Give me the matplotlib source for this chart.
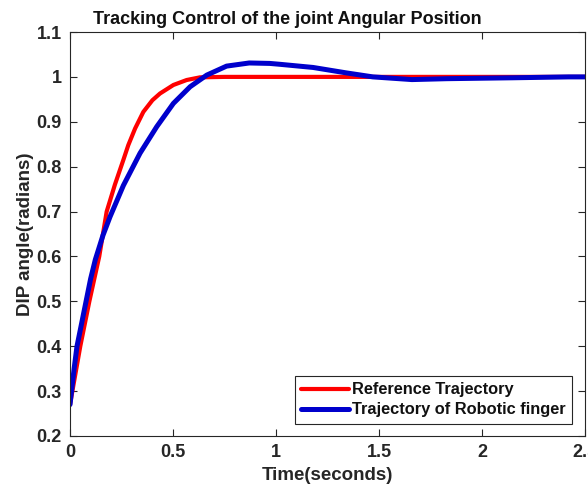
import matplotlib
matplotlib.use("Agg")
import matplotlib.pyplot as plt
from matplotlib.ticker import FixedLocator, FixedFormatter

plt.rcParams['font.family'] = ['Liberation Sans', 'DejaVu Sans']
plt.rcParams['font.weight'] = 'bold'

# Reference trajectory
t_ref = [0, 0.05, 0.094, 0.142, 0.178, 0.218, 0.259, 0.283, 0.316, 0.356, 0.40, 0.437, 0.502,
         0.566, 0.631, 0.75, 1.0, 1.5, 2.0, 2.5]
y_ref = [0.27, 0.40, 0.50, 0.60, 0.70, 0.76, 0.815, 0.848, 0.885, 0.922, 0.948, 0.963, 0.982,
         0.993, 0.999, 1.0, 1.0, 1.0, 1.0, 1.0]

# Trajectory of robotic finger
t_rob = [0, 0.02, 0.034, 0.078, 0.10, 0.123, 0.16, 0.194, 0.259, 0.34, 0.421, 0.502, 0.583, 0.664,
         0.76, 0.87, 0.97, 1.02, 1.18, 1.34, 1.47, 1.66, 1.83, 2.15, 2.42, 2.5]
y_rob = [0.27, 0.35, 0.40, 0.50, 0.55, 0.593, 0.647, 0.688, 0.758, 0.83, 0.889, 0.941, 0.978, 1.004,
         1.024, 1.031, 1.030, 1.028, 1.021, 1.009, 1.000, 0.994, 0.996, 0.998, 1.0, 1.0]

xticks = [0, 0.5, 1, 1.5, 2, 2.5]
xtick_labels = ['0', '0.5', '1', '1.5', '2', '2.5']
yticks = [0.2, 0.3, 0.4, 0.5, 0.6, 0.7, 0.8, 0.9, 1.0, 1.1]
ytick_labels = ['0.2', '0.3', '0.4', '0.5', '0.6', '0.7', '0.8', '0.9', '1', '1.1']

fig = plt.figure(figsize=(5.88, 4.96), dpi=100)
ax = fig.add_axes([70/588, 1-436/496, 515/588, 404/496])

ax.plot(t_ref, y_ref, color='#ff0000', lw=3.0, solid_joinstyle='round', solid_capstyle='round',
        label='Reference Trajectory')
ax.plot(t_rob, y_rob, color='#0000cc', lw=3.6, solid_joinstyle='round', solid_capstyle='round',
        label='Trajectory of Robotic finger')

ax.set_xlim(0, 2.5)
ax.set_ylim(0.2, 1.1)
ax.xaxis.set_major_locator(FixedLocator(xticks))
ax.xaxis.set_major_formatter(FixedFormatter(xtick_labels))
ax.yaxis.set_major_locator(FixedLocator(yticks))
ax.yaxis.set_major_formatter(FixedFormatter(ytick_labels))

axcol = '#262626'
for s in ax.spines.values():
    s.set_color(axcol)
    s.set_linewidth(0.8)
ax.tick_params(direction='in', top=True, right=True, length=5, width=0.8, color=axcol,
               labelsize=13, labelcolor=axcol, pad=6)

fig.text(287/588, 1-24/496, 'Tracking Control of the joint Angular Position', fontsize=13,
         fontweight='bold', color='#111111', ha='center', va='baseline')
ax.set_xlabel('Time(seconds)', fontsize=13.5, fontweight='bold', color=axcol, labelpad=4)
ax.set_ylabel('DIP angle(radians)', fontsize=13.5, fontweight='bold', color=axcol, labelpad=2)

leg = ax.legend(loc='lower right', bbox_to_anchor=(0.975, 0.03), fontsize=11.8, fancybox=False,
                framealpha=1, edgecolor=axcol, handlelength=2.9, handletextpad=0.2,
                borderpad=0.4, labelspacing=0.3, borderaxespad=0)
leg.get_frame().set_linewidth(0.8)
for txt in leg.get_texts():
    txt.set_color('#111111')

fig.savefig('out.png', dpi=100)
